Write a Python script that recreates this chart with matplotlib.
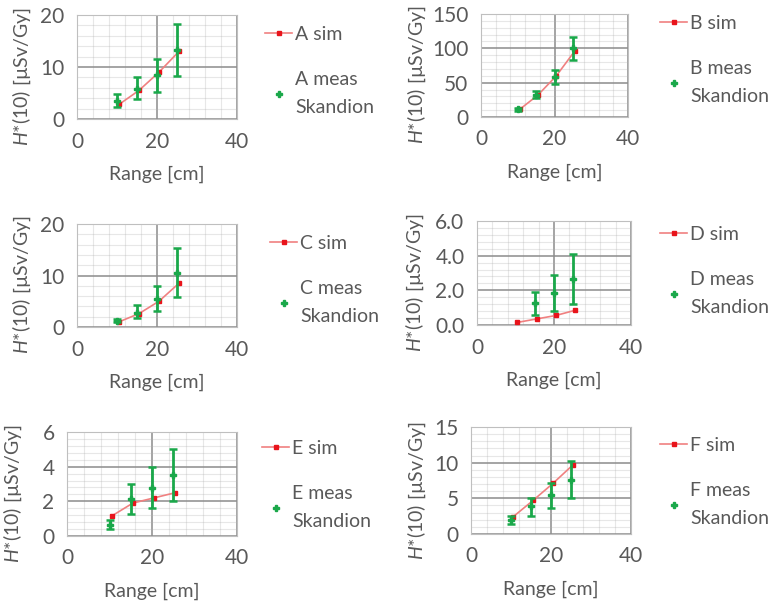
import matplotlib.pyplot as plt
from matplotlib.ticker import MultipleLocator, FormatStrFormatter

plt.rcParams['font.family'] = ['Lato', 'DejaVu Sans']
plt.rcParams['mathtext.fontset'] = 'custom'
plt.rcParams['mathtext.it'] = 'Lato:italic'
plt.rcParams['mathtext.rm'] = 'Lato'

# data
panels = ['A', 'B', 'C', 'D', 'E', 'F']
sim_x = [10.5, 15.5, 20.5, 25.5]
meas_x = [10, 15, 20, 25]

sim_A = [2.8, 5.5, 9.0, 13.0]
meas_A = [3.5, 5.8, 8.5, 13.2]
lo_A = [2.3, 3.8, 5.2, 8.2]
hi_A = [4.8, 8.0, 11.6, 18.3]

sim_B = [11, 32, 60, 96]
meas_B = [11, 32, 58, 100]
lo_B = [9, 28, 48, 83]
hi_B = [13, 38, 68, 116]

sim_C = [1.0, 2.6, 5.0, 8.5]
meas_C = [1.2, 2.8, 5.5, 10.5]
lo_C = [0.9, 1.7, 3.1, 5.8]
hi_C = [1.5, 4.2, 8.0, 15.3]

sim_D = [0.15, 0.35, 0.55, 0.85]
meas_D = [None, 1.25, 1.85, 2.65]
lo_D = [None, 0.6, 0.8, 1.2]
hi_D = [None, 1.9, 2.9, 4.1]

sim_E = [1.15, 1.9, 2.2, 2.5]
meas_E = [0.65, 2.15, 2.75, 3.5]
lo_E = [0.4, 1.25, 1.6, 2.0]
hi_E = [0.9, 3.0, 4.0, 5.0]

sim_F = [2.4, 4.7, 7.1, 9.7]
meas_F = [1.9, 3.9, 5.4, 7.6]
lo_F = [1.4, 2.5, 3.6, 5.0]
hi_F = [2.5, 5.0, 7.2, 10.2]

sims = [sim_A, sim_B, sim_C, sim_D, sim_E, sim_F]
meas = [meas_A, meas_B, meas_C, meas_D, meas_E, meas_F]
los = [lo_A, lo_B, lo_C, lo_D, lo_E, lo_F]
his = [hi_A, hi_B, hi_C, hi_D, hi_E, hi_F]
ymax = [20, 150, 20, 6, 6, 15]
ystep = [10, 50, 10, 2, 2, 5]
yfmt = ['%d', '%d', '%d', '%.1f', '%d', '%d']

# axes boxes in pixels: left, top, right, bottom
W, H = 769, 606
boxes_px = [(77, 15, 237, 119),
            (481, 14, 628, 117),
            (77, 224, 237, 327),
            (477, 221, 631, 325),
            (67, 432, 237, 536),
            (471, 427, 631, 534)]
ylab_px = [33, 428, 33, 426, 24, 428]        # right edge of the y label
leg_px = [(265, 26), (660, 15), (270, 235),  # top-left of the legends
          (660, 226), (262, 440), (660, 437)]

txt = '#595959'
fig = plt.figure(figsize=(W / 100, H / 100), dpi=100)

for i, p in enumerate(panels):
    l, t, r, b = boxes_px[i]
    ax = fig.add_axes([l / W, 1 - b / H, (r - l) / W, (b - t) / H])
    mx = [x for x, v in zip(meas_x, meas[i]) if v is not None]
    mv = [v for v in meas[i] if v is not None]
    ml = [v - lo for v, lo in zip(mv, [q for q in los[i] if q is not None])]
    mh = [hi - v for v, hi in zip(mv, [q for q in his[i] if q is not None])]

    ax.plot(sim_x, sims[i], color='#f08080', lw=1.2, marker='s', ms=3.5,
            mfc='#e8141b', mec='#e8141b', label=p + ' sim', zorder=3)
    ax.errorbar(mx, mv, yerr=[ml, mh], fmt='none', ecolor='#1aa84a',
                elinewidth=2, capsize=3, capthick=1.8, zorder=4)
    ax.plot(mx, mv, ls='none', marker='P', ms=5, color='#1aa84a',
            label=p + ' meas\nSkandion', zorder=5)

    ax.set_xlim(0, 40)
    ax.set_ylim(0, ymax[i])
    ax.xaxis.set_major_locator(MultipleLocator(20))
    ax.xaxis.set_minor_locator(MultipleLocator(4))
    ax.yaxis.set_major_locator(MultipleLocator(ystep[i]))
    ax.yaxis.set_minor_locator(MultipleLocator(ystep[i] / 5))
    ax.yaxis.set_major_formatter(FormatStrFormatter(yfmt[i]))
    ax.grid(which='major', color='#8c8c8c', lw=1.1)
    ax.grid(which='minor', color='#b0b0b0', alpha=0.3, lw=0.8)
    ax.set_axisbelow(True)
    for s in ax.spines.values():
        s.set_color('#bfbfbf')
    ax.tick_params(which='both', length=0, labelsize=15, colors=txt)
    ax.tick_params(axis='y', pad=9)
    ax.tick_params(axis='x', pad=9)
    ax.set_xlabel('Range [cm]', fontsize=14, color=txt, labelpad=10)
    ax.set_ylabel(r'$\it{H}$*(10) [µSv/Gy]', fontsize=14, color=txt)
    ax.yaxis.set_label_coords((ylab_px[i] - l) / (r - l), 0.41)

    lx, ly = leg_px[i]
    leg = ax.legend(loc='upper left',
                    bbox_to_anchor=((lx - l) / (r - l), 1 - (ly - t) / (b - t)),
                    borderaxespad=0, borderpad=0,
                    frameon=False, fontsize=14, labelspacing=1.45,
                    handlelength=1.4, handletextpad=0.15, labelcolor=txt)
    for tx in leg.get_texts():
        tx.set_linespacing(1.75)

fig.savefig('out.png', dpi=100)
